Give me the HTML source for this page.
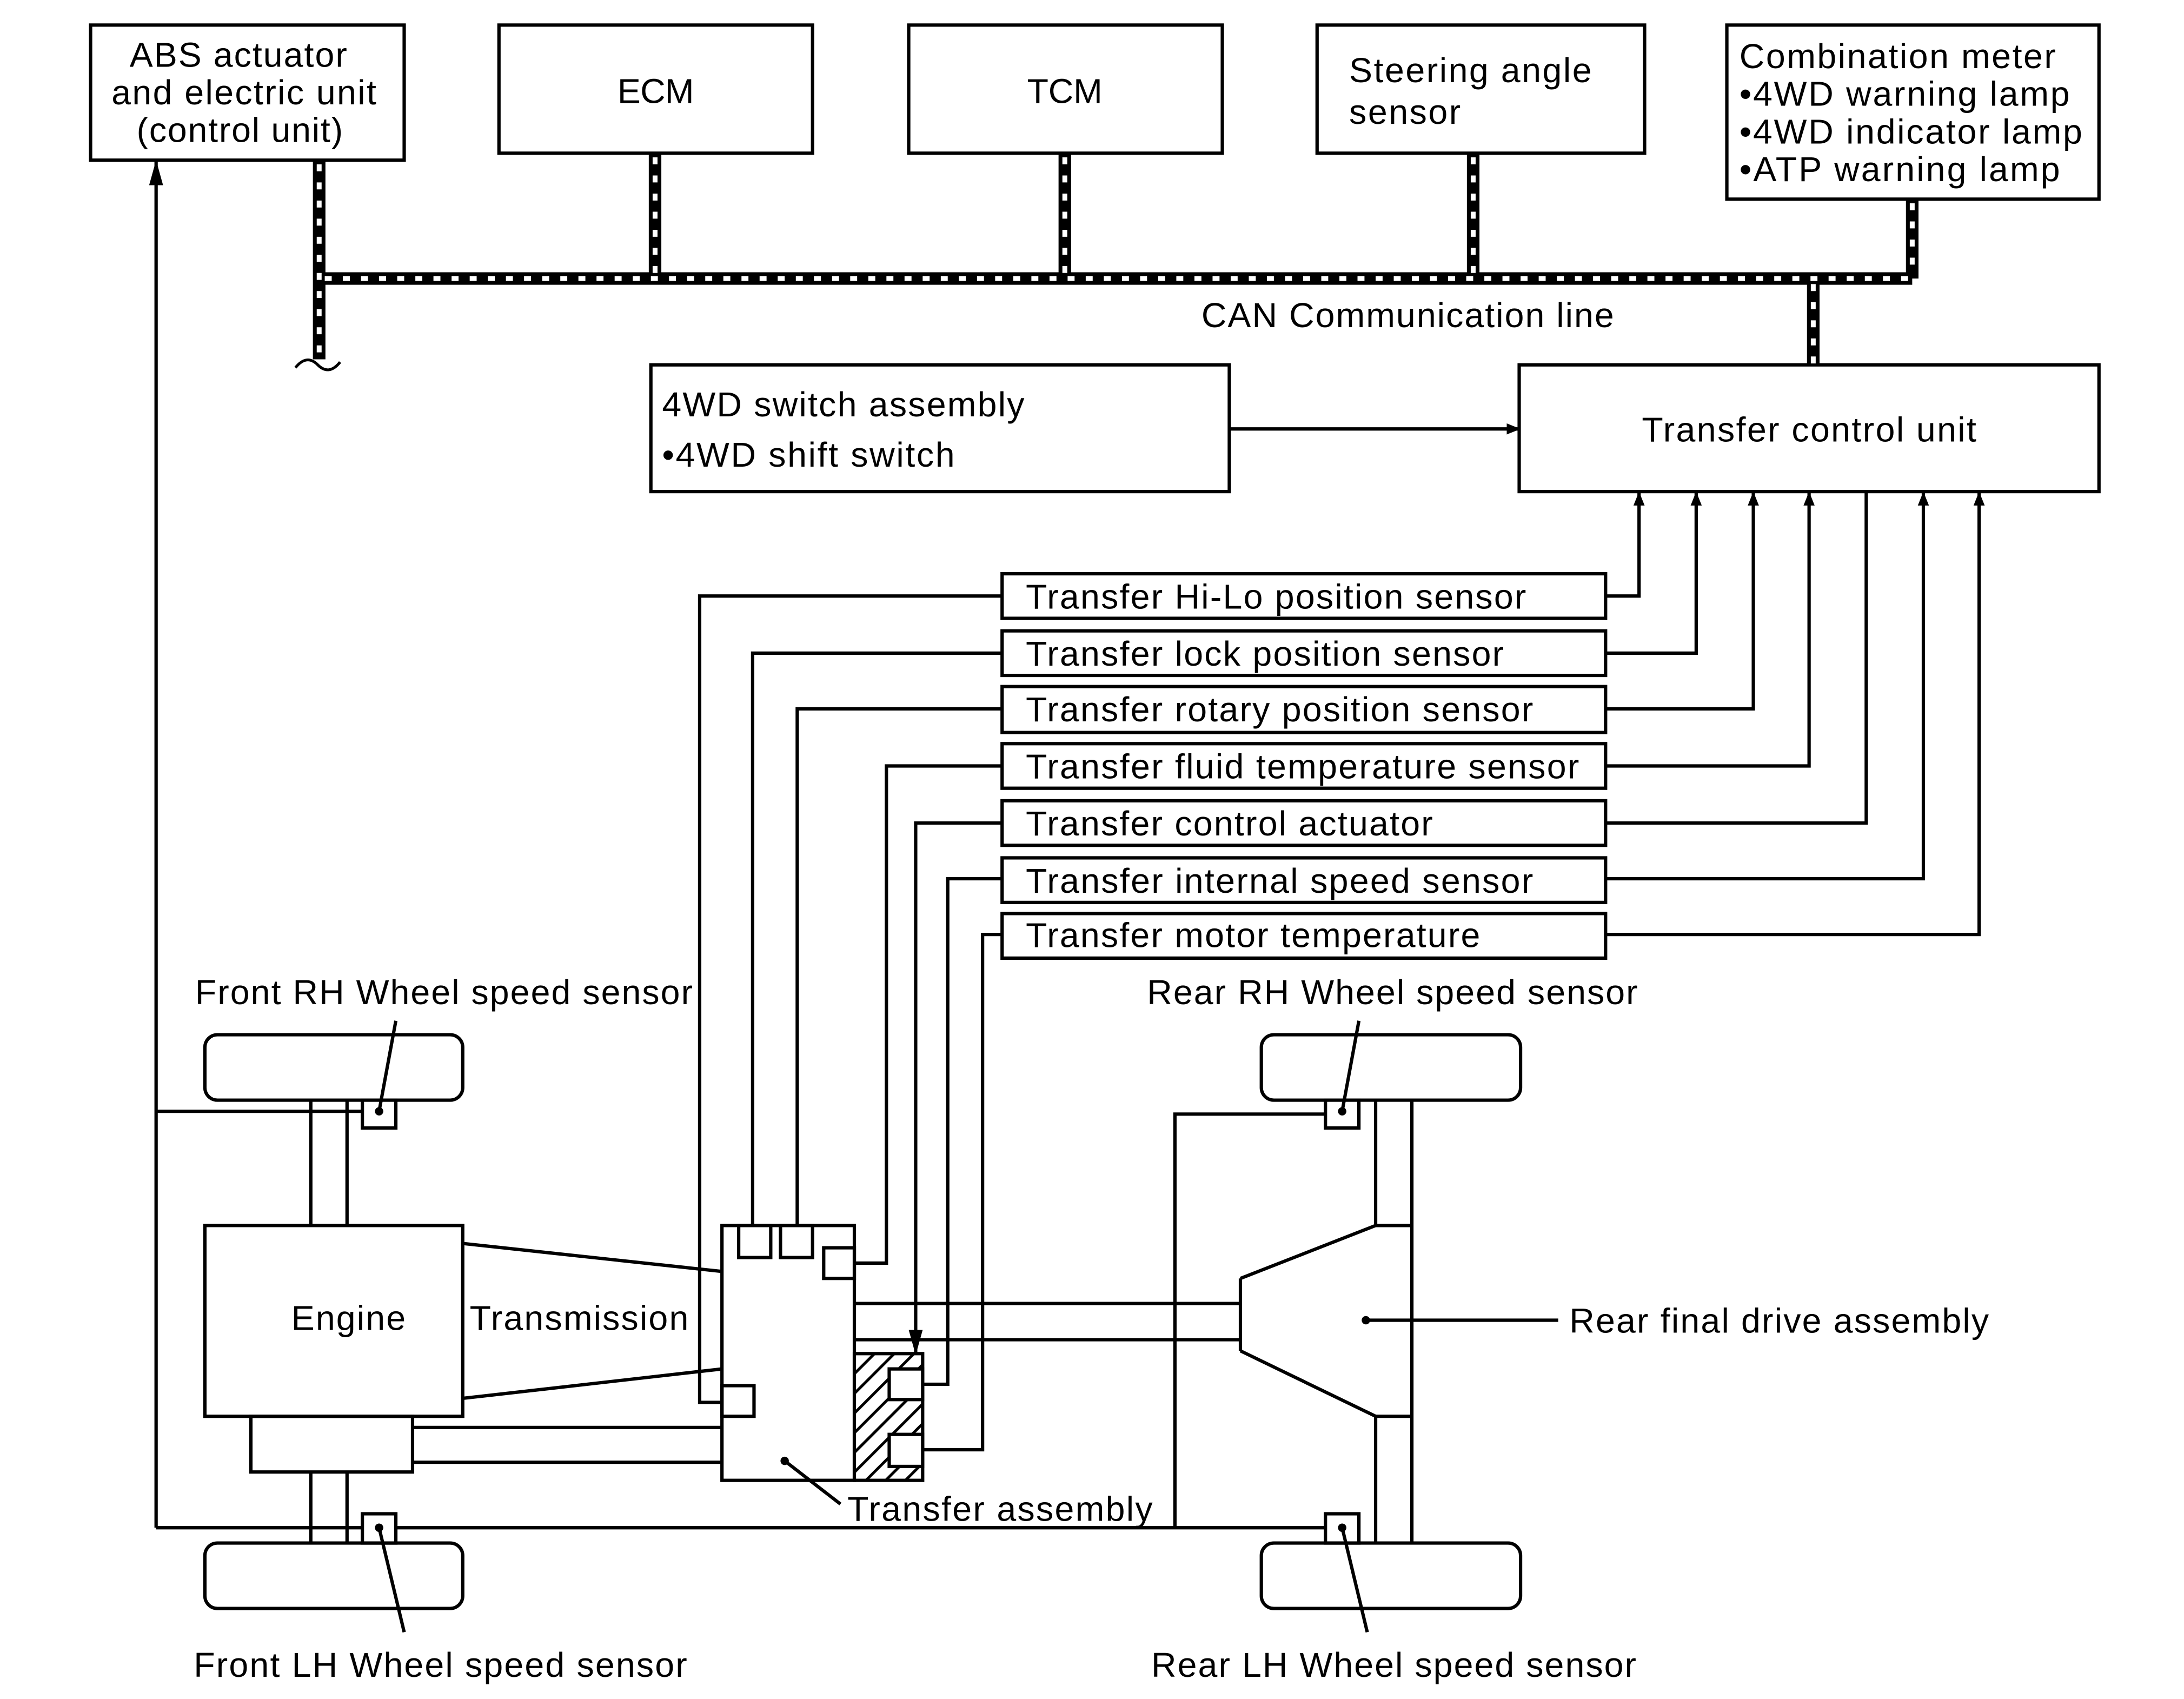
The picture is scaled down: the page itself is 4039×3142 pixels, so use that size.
<!DOCTYPE html>
<html><head><meta charset="utf-8"><style>html,body{margin:0;padding:0;background:#fff}svg{display:block}</style></head>
<body>
<svg width="4039" height="3142" viewBox="0 0 1567 1220" preserveAspectRatio="none" xmlns="http://www.w3.org/2000/svg">
<defs>
<marker id="ar" markerWidth="10" markerHeight="10" refX="9" refY="5" orient="auto" markerUnits="userSpaceOnUse"><path d="M0,1 L10,5 L0,9 Z" fill="#000"/></marker>
<marker id="ar2" markerWidth="18" markerHeight="12" refX="17" refY="6" orient="auto" markerUnits="userSpaceOnUse"><path d="M0,1 L18,6 L0,11 Z" fill="#000"/></marker>
<pattern id="hat" width="10" height="10" patternUnits="userSpaceOnUse" patternTransform="rotate(45)"><rect width="10" height="10" fill="#fff"/><line x1="0" y1="0" x2="0" y2="10" stroke="#000" stroke-width="4"/></pattern>
</defs>
<g font-family="Liberation Sans, sans-serif" font-size="25" fill="#000">
<g fill="none" stroke="#000" stroke-width="2.4">
<rect x="65" y="18" width="225" height="97"/>
<rect x="358" y="18" width="225" height="92"/>
<rect x="652" y="18" width="225" height="92"/>
<rect x="945" y="18" width="235" height="92"/>
<rect x="1239" y="18" width="267" height="125"/>
<rect x="467" y="262" width="415" height="91"/>
<rect x="1090" y="262" width="416" height="91"/>
<rect x="719" y="412" width="433" height="32"/>
<rect x="719" y="453" width="433" height="32"/>
<rect x="719" y="493" width="433" height="33"/>
<rect x="719" y="534" width="433" height="32"/>
<rect x="719" y="575" width="433" height="32"/>
<rect x="719" y="616" width="433" height="32"/>
<rect x="719" y="656" width="433" height="32"/>
</g>
<g fill="none">
<path d="M229,115 V258 M470,110 V200 M764,110 V200 M1057,110 V200 M1372,143 V200 M229,200 H1372 M1301,200 V262" stroke="#000" stroke-width="9"/>
<path d="M229,118 V258 M470,113 V197 M764,113 V197 M1057,113 V197 M1372,146 V197 M233,200 H1370 M1301,204 V262" stroke="#fff" stroke-width="3.5" stroke-dasharray="5,8"/>
<path d="M212,264 q8,-10 16,-2 q8,8 16,-2" stroke="#000" stroke-width="2"/>
</g>
<text x="93" y="48" textLength="156">ABS actuator</text>
<text x="80" y="75" textLength="190">and electric unit</text>
<text x="98" y="102" textLength="148">(control unit)</text>
<text x="443" y="74" textLength="55">ECM</text>
<text x="737" y="74" textLength="54">TCM</text>
<text x="968" y="59" textLength="174">Steering angle</text>
<text x="968" y="89" textLength="80">sensor</text>
<text x="1248" y="49" textLength="227">Combination meter</text>
<text x="1248" y="76" textLength="237">•4WD warning lamp</text>
<text x="1248" y="103" textLength="246">•4WD indicator lamp</text>
<text x="1248" y="130" textLength="230">•ATP warning lamp</text>
<text x="862" y="235" textLength="296">CAN Communication line</text>
<text x="475" y="299" textLength="260">4WD switch assembly</text>
<text x="475" y="335" textLength="210">•4WD shift switch</text>
<text x="1178" y="317" textLength="240">Transfer control unit</text>
<text x="736" y="437" textLength="359">Transfer Hi-Lo position sensor</text>
<text x="736" y="478" textLength="343">Transfer lock position sensor</text>
<text x="736" y="518" textLength="364">Transfer rotary position sensor</text>
<text x="736" y="559" textLength="397">Transfer fluid temperature sensor</text>
<text x="736" y="600" textLength="292">Transfer control actuator</text>
<text x="736" y="641" textLength="364">Transfer internal speed sensor</text>
<text x="736" y="680" textLength="326">Transfer motor temperature</text>
<g fill="none" stroke="#000" stroke-width="2.4">
<path d="M882,308 H1090" marker-end="url(#ar)"/>
<path d="M1152,428 H1176 V354" marker-end="url(#ar)"/>
<path d="M1152,469 H1217 V354" marker-end="url(#ar)"/>
<path d="M1152,509 H1258 V354" marker-end="url(#ar)"/>
<path d="M1152,550 H1298 V354" marker-end="url(#ar)"/>
<path d="M1152,591 H1339 V353"/>
<path d="M1152,631 H1380 V354" marker-end="url(#ar)"/>
<path d="M1152,671 H1420 V354" marker-end="url(#ar)"/>
<path d="M719,428 H502 V1007 H518"/>
<path d="M719,469 H540 V880"/>
<path d="M719,509 H572 V880"/>
<path d="M719,550 H636 V907 H613"/>
<path d="M719,591 H657 V972" marker-end="url(#ar2)"/>
<path d="M719,631 H680 V994 H662"/>
<path d="M719,671 H705 V1041 H662"/>
<path d="M112,1097 V116" marker-end="url(#ar2)"/>
<path d="M112,798 H272 M112,1097 H963 M963,800 H843 V1097"/>
<rect x="147" y="743" width="185" height="47" rx="9"/>
<rect x="147" y="1108" width="185" height="47" rx="9"/>
<rect x="905" y="743" width="186" height="47" rx="9"/>
<rect x="905" y="1108" width="186" height="47" rx="9"/>
<path d="M223,790 V880 M249,790 V880 M223,1057 V1108 M249,1057 V1108"/>
<rect x="147" y="880" width="185" height="137"/>
<rect x="180" y="1017" width="116" height="40"/>
<path d="M296,1025 H518 M296,1050 H518"/>
<path d="M333,893 L518,913 M333,1004 L518,983"/>
<rect x="518" y="880" width="95" height="183"/>
<rect x="530" y="880" width="23" height="23"/>
<rect x="560" y="880" width="23" height="23"/>
<rect x="591" y="896" width="22" height="22"/>
<rect x="518" y="995" width="23" height="22"/>
<rect x="613" y="972" width="49" height="91" fill="url(#hat)"/>
<rect x="638" y="983" width="24" height="22" fill="#fff"/>
<rect x="638" y="1030" width="24" height="23" fill="#fff"/>
<path d="M613,936 H890 M613,962 H890"/>
<path d="M890,918 V970 M890,918 L987,880 H1013 M890,970 L987,1017 H1013 M987,790 V880 M987,1017 V1108 M1013,790 V1108"/>
<rect x="260" y="790" width="24" height="20" fill="#fff"/>
<rect x="260" y="1087" width="24" height="21" fill="#fff"/>
<rect x="951" y="790" width="24" height="20" fill="#fff"/>
<rect x="951" y="1087" width="24" height="21" fill="#fff"/>
<path d="M284,733 L272,798 M975,733 L963,798 M290,1172 L272,1097 M981,1172 L963,1097 M563,1049 L603,1080 M980,948 H1118"/>
</g>
<g fill="#000"><circle cx="272" cy="798" r="3"/><circle cx="963" cy="798" r="3"/><circle cx="272" cy="1097" r="3"/><circle cx="963" cy="1097" r="3"/><circle cx="563" cy="1049" r="3"/><circle cx="980" cy="948" r="3"/></g>
<text x="140" y="721" textLength="357">Front RH Wheel speed sensor</text>
<text x="823" y="721" textLength="352">Rear RH Wheel speed sensor</text>
<text x="139" y="1204" textLength="354">Front LH Wheel speed sensor</text>
<text x="826" y="1204" textLength="348">Rear LH Wheel speed sensor</text>
<text x="209" y="955" textLength="82">Engine</text>
<text x="337" y="955" textLength="157">Transmission</text>
<text x="608" y="1092" textLength="219">Transfer assembly</text>
<text x="1126" y="957" textLength="301">Rear final drive assembly</text>
</g>
</svg>
</body></html>
